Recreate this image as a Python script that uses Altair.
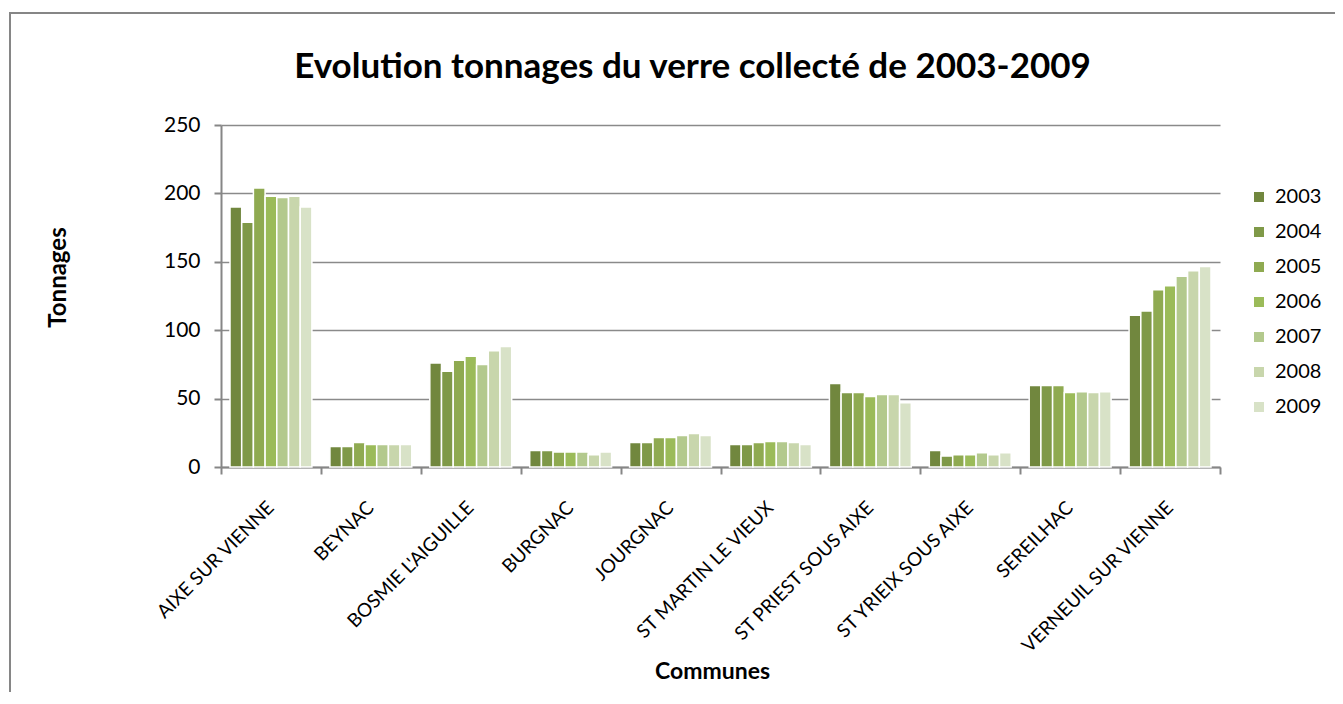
import altair as alt
import pandas as pd

communes = ["AIXE SUR VIENNE", "BEYNAC", "BOSMIE L'AIGUILLE", "BURGNAC", "JOURGNAC",
            "ST MARTIN LE VIEUX", "ST PRIEST SOUS AIXE", "ST YRIEIX  SOUS AIXE",
            "SEREILHAC", "VERNEUIL  SUR VIENNE"]
years = ["2003", "2004", "2005", "2006", "2007", "2008", "2009"]

aixe = [190, 179, 204, 198, 197, 198, 190]
beynac = [15, 15, 18, 16.5, 16.5, 16.5, 16.5]
bosmie = [76, 70, 78, 81, 75, 85, 88]
burgnac = [12, 12, 11, 11, 11, 9, 11]
jourgnac = [18, 18, 21.5, 21.5, 23, 24.5, 23]
st_martin = [16.5, 16.5, 18, 18.7, 18.7, 18, 16.5]
st_priest = [61, 54.5, 54.5, 51.5, 53, 53, 47]
st_yrieix = [12, 8, 9, 9, 10.5, 9, 10.5]
sereilhac = [59.5, 59.5, 59.5, 54.5, 55, 54.5, 55]
verneuil = [111, 114, 129.5, 132.5, 139.5, 143.5, 146.5]

series = [aixe, beynac, bosmie, burgnac, jourgnac, st_martin, st_priest,
          st_yrieix, sereilhac, verneuil]

colors = ["#71873E", "#7F9948", "#8FAA51", "#9BBB59", "#B3C98D", "#C8D6AC", "#D8E2C7"]

rows = []
for c, vals in zip(communes, series):
    for y, v in zip(years, vals):
        rows.append({"commune": c, "year": y, "value": v})
df = pd.DataFrame(rows)

FONT = "Lato"

bars = alt.Chart(df).mark_bar(stroke="white", strokeWidth=1.5).encode(
    x=alt.X("commune:N", sort=communes,
            scale=alt.Scale(paddingInner=0, paddingOuter=0),
            axis=alt.Axis(title="Communes", labelAngle=-45, labelAlign="right",
                          labelBaseline="top", labelFontSize=19, labelFont=FONT,
                          labelColor="black", labelPadding=24, labelOffset=-7,
                          labelLimit=400,
                          tickBand="extent", tickSize=7, tickColor="#868686",
                          tickWidth=2, domainColor="#868686", domainWidth=2,
                          grid=False, titleFont=FONT, titleFontSize=23,
                          titleFontWeight="bold", titleColor="black",
                          titleX=491, titleY=204, titleBaseline="middle",
                          titleAlign="center")),
    xOffset=alt.XOffset("year:N", sort=years,
                        scale=alt.Scale(paddingOuter=0.77, paddingInner=0)),
    y=alt.Y("value:Q", scale=alt.Scale(domain=[0, 250], nice=False),
            axis=alt.Axis(title="Tonnages", values=[0, 50, 100, 150, 200, 250],
                          labelFontSize=21, labelFont=FONT, labelColor="black",
                          labelPadding=14, tickSize=7, tickColor="#868686",
                          tickWidth=2, domainColor="#868686", domainWidth=2,
                          gridColor="#8A8A8A", gridWidth=1.5,
                          titleFont=FONT, titleFontSize=24, titleFontWeight="bold",
                          titleColor="black", titleAngle=-90, titleX=-163,
                          titleY=152, titleBaseline="middle", titleAlign="center")),
    color=alt.Color("year:N", sort=years,
                    scale=alt.Scale(domain=years, range=colors),
                    legend=alt.Legend(title=None, orient="none", legendX=1028,
                                      legendY=62, symbolType="square",
                                      symbolSize=100, symbolStrokeWidth=0,
                                      labelFont=FONT, labelFontSize=20,
                                      labelColor="black", rowPadding=15,
                                      labelOffset=6, padding=0)),
)

frame = alt.Chart(pd.DataFrame({"f": [0]})).mark_rect(
    filled=False, stroke="#868686", strokeWidth=2
).encode(
    x=alt.value(-211), x2=alt.value(1400), y=alt.value(-112), y2=alt.value(800)
)

chart = alt.layer(frame, bars).properties(
    width=999, height=342,
    title=alt.TitleParams("Evolution tonnages du verre collecté de 2003-2009",
                          font=FONT, fontSize=35, fontWeight="bold",
                          color="black", anchor="middle", frame="group",
                          dx=-28, offset=0, dy=73),
    autosize=alt.AutoSizeParams(type="none"),
    padding={"left": 213, "top": 117, "right": 115, "bottom": 225},
).configure_view(stroke=None)

chart.save("out.html", embed_options={"renderer": "svg", "actions": False})
